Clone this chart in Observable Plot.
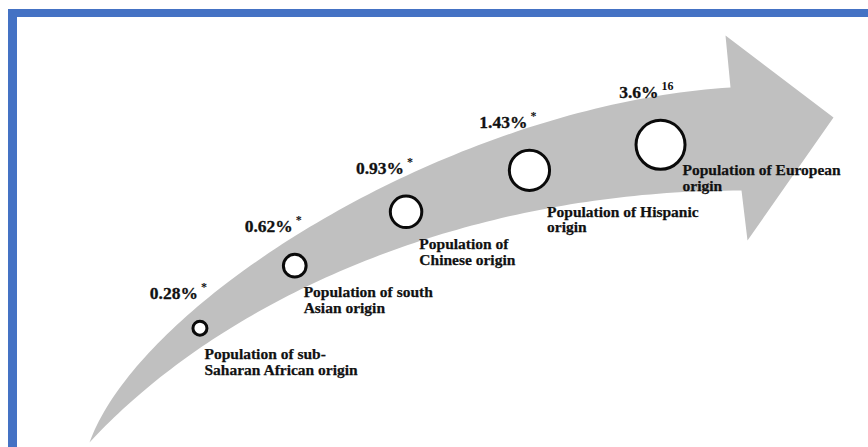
<!DOCTYPE html>
<html>
<head>
<meta charset="utf-8">
<script src="https://cdn.jsdelivr.net/npm/d3@7"></script>
<script src="https://cdn.jsdelivr.net/npm/@observablehq/plot@0.6"></script>
<style>
  html, body { margin: 0; padding: 0; background: #fff; }
  #wrap { position: relative; width: 868px; height: 447px; overflow: hidden; }
  #frame { position: absolute; left: 8px; top: 9px; right: -30px; bottom: -30px;
           border-top: 8px solid #4472c4; border-left: 9px solid #4472c4; pointer-events: none; }
  #chart svg text { font-family: "Liberation Serif", "Times New Roman", Tinos, serif !important; font-weight: bold; }
</style>
</head>
<body>
<div id="wrap"><div id="chart"></div><div id="frame"></div></div>
<script>
// ---- data ----
const categories = [
  "Population of sub-\nSaharan African origin",
  "Population of south\nAsian origin",
  "Population of\nChinese origin",
  "Population of Hispanic\norigin",
  "Population of European\norigin"
];
const values = [0.28, 0.62, 0.93, 1.43, 3.6];
const notes = ["*", "*", "*", "*", "16"];

// ---- arrow geometry (decorative shape, canvas units) ----
const W = 868, H = 447;
const upperEdge = [[89, 442], [140, 300], [450, 105], [730, 87]];
const lowerEdge = [[89, 442], [220, 300], [460, 190], [741, 190]];
const headTop = [725, 35], headTip = [833, 117], headBottom = [747, 240];

function bez(p, t) {
  const u = 1 - t, a = u * u * u, b = 3 * u * u * t, c = 3 * u * t * t, d = t * t * t;
  return [a * p[0][0] + b * p[1][0] + c * p[2][0] + d * p[3][0],
          a * p[0][1] + b * p[1][1] + c * p[2][1] + d * p[3][1]];
}
const N = 100;
const outline = [];
for (let i = 0; i <= N; i++) outline.push(bez(upperEdge, i / N));
outline.push(headTop, headTip, headBottom);
for (let i = N; i >= 0; i--) outline.push(bez(lowerEdge, i / N));

function lowerYAt(x) {
  let lo = 0, hi = 1;
  for (let k = 0; k < 40; k++) {
    const m = (lo + hi) / 2;
    if (bez(lowerEdge, m)[0] < x) lo = m; else hi = m;
  }
  return bez(lowerEdge, (lo + hi) / 2)[1];
}

// markers sit evenly along the arrow's centre line, growing in size
const tStart = 0.27, tStep = 0.16;
const strokeW = 3;
const rank = d3.scaleLinear().domain([0, categories.length - 1]).range([7, 24.5]);

const rows = categories.map((c, i) => {
  const t = tStart + tStep * i;
  const u = bez(upperEdge, t), l = bez(lowerEdge, t);
  const cx = (u[0] + l[0]) / 2, cy = (u[1] + l[1]) / 2;
  const rOut = rank(i) + strokeW / 2;
  const lx = cx + rOut - 4;
  const last = i === categories.length - 1;
  const baseline = last ? cy + 30 : Math.max(lowerYAt(lx) + 8, cy + 31);
  return {
    category: c, value: values[i], note: notes[i], idx: i,
    cx, cy,
    vx: cx - 2, vy: cy - rOut - 21,
    nx: cx + 1, ny: cy - rOut - 29,
    lx, ly: baseline - 0.71 * 15.5
  };
});

const serif = "Liberation Serif";

const chart = Plot.plot({
  width: W, height: H, margin: 0,
  x: {domain: [0, W], range: [0, W], axis: null},
  y: {domain: [0, H], range: [0, H], axis: null},
  r: {type: "linear", domain: [0, categories.length - 1], range: [7, 24.5]},
  style: {fontFamily: serif, background: "transparent", overflow: "visible"},
  marks: [
    Plot.line(outline, {x: d => d[0], y: d => d[1], fill: "#c0c0c0", stroke: "none", curve: "linear"}),
    Plot.dot(rows, {x: "cx", y: "cy", r: "idx", fill: "#ffffff", stroke: "#0a0a0a", strokeWidth: strokeW}),
    Plot.text(rows, {x: "vx", y: "vy", text: d => `${d.value}%`, textAnchor: "end", lineAnchor: "bottom",
      fontSize: 17.5, fontWeight: "bold", fill: "#111", stroke: "#111", strokeWidth: 0.3}),
    Plot.text(rows, {x: "nx", y: "ny", text: "note", textAnchor: "start", lineAnchor: "bottom",
      fontSize: 12, fontWeight: "bold", fill: "#111"}),
    Plot.text(rows, {x: "lx", y: "ly", text: "category", textAnchor: "start", lineAnchor: "top",
      lineHeight: 1.02, fontSize: 15.5, fontWeight: "bold", fill: "#111", stroke: "#111", strokeWidth: 0.25})
  ]
});
document.getElementById("chart").appendChild(chart);
</script>
</body>
</html>
